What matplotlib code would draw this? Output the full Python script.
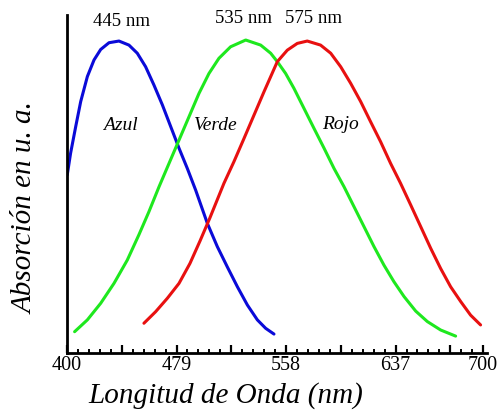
import numpy as np
import matplotlib
matplotlib.use("Agg")
import matplotlib.pyplot as plt

# absorption curves of the three cone types (arbitrary units)
azul_nm = [400.2, 402.6, 406.3, 409.9, 414.7, 419.5, 424.3, 430.3, 437.5, 444.7,
           450.7, 456.7, 462.7, 468.8, 474.8, 480.8, 486.8, 492.8, 501.2, 508.4,
           515.6, 522.9, 530.1, 537.3, 543.3, 549.3]
azul_abs = [0.527, 0.591, 0.670, 0.744, 0.818, 0.867, 0.898, 0.918, 0.923, 0.911,
            0.887, 0.847, 0.793, 0.734, 0.670, 0.606, 0.546, 0.482, 0.384, 0.315,
            0.255, 0.196, 0.142, 0.098, 0.073, 0.056]

verde_nm = [405.5, 414.7, 424.3, 433.9, 443.5, 451.9, 459.1, 466.4, 473.6, 480.8,
            488.0, 495.2, 502.4, 509.6, 518.0, 528.9, 539.7, 546.9, 551.7, 557.7,
            563.7, 570.9, 578.1, 585.4, 592.6, 599.8, 607.0, 614.2, 621.4, 628.6,
            635.8, 643.1, 651.5, 659.9, 669.5, 680.3]
verde_abs = [0.063, 0.098, 0.147, 0.206, 0.275, 0.350, 0.418, 0.492, 0.561, 0.630,
             0.699, 0.768, 0.827, 0.872, 0.906, 0.926, 0.911, 0.887, 0.862, 0.827,
             0.783, 0.724, 0.665, 0.606, 0.546, 0.492, 0.433, 0.374, 0.315, 0.260,
             0.211, 0.167, 0.124, 0.093, 0.068, 0.050]

rojo_nm = [455.5, 463.9, 472.4, 480.8, 488.7, 495.9, 503.1, 513.2, 520.4,
           527.7, 534.9, 542.1, 551.7, 558.9, 566.1, 573.3, 582.9, 590.2, 597.4,
           604.6, 611.8, 619.0, 626.2, 633.4, 640.6, 647.9, 655.1, 662.3, 669.5,
           676.7, 684.0, 691.1, 698.3]
rojo_abs = [0.088, 0.122, 0.162, 0.206, 0.265, 0.331, 0.400, 0.502, 0.566,
            0.635, 0.704, 0.773, 0.862, 0.896, 0.916, 0.923, 0.911, 0.887, 0.847,
            0.798, 0.744, 0.684, 0.625, 0.561, 0.502, 0.438, 0.374, 0.310, 0.250,
            0.196, 0.152, 0.112, 0.083]

tick_values = [400, 479, 558, 637, 700]
peak_labels = ["445 nm", "535 nm", "575 nm"]

plt.rcParams["font.family"] = ["Liberation Serif", "DejaVu Serif"]

fig = plt.figure(figsize=(4.98, 4.17), dpi=100)
ax = fig.add_axes([0.1345, 0.1535, 0.9781 - 0.1345, 0.964 - 0.1535])

line_kw = dict(lw=2.2, solid_capstyle="round", solid_joinstyle="round")
ax.plot(azul_nm, azul_abs, color="#0a0ad8", **line_kw)
ax.plot(verde_nm, verde_abs, color="#1ee81e", **line_kw)
ax.plot(rojo_nm, rojo_abs, color="#e81010", **line_kw)

ax.set_xlim(400, 703)
ax.set_ylim(0, 1)

for side in ("top", "right"):
    ax.spines[side].set_visible(False)
for side in ("left", "bottom"):
    ax.spines[side].set_linewidth(2.0)

# major ticks every 39.5 nm, labelled only at every other one
major = list(np.arange(400, 690, 39.5)) + [700]
ax.set_xticks(major)
ax.set_xticklabels([str(int(round(v))) if int(round(v)) in tick_values else ""
                    for v in major], fontsize=14.5)
ax.set_xticks(np.arange(400, 700, 7.9), minor=True)
ax.tick_params(axis="x", which="major", direction="in", length=6, width=1.6, pad=2)
ax.tick_params(axis="x", which="minor", direction="in", length=3, width=1.4)
ax.set_yticks([])

ax.set_xlabel("Longitud de Onda (nm)", fontsize=21, style="italic")
ax.set_ylabel("Absorción en u. a.", fontsize=21, style="italic")
ax.xaxis.set_label_coords(0.379, -0.085)
ax.yaxis.set_label_coords(-0.068, 0.43)

# peak wavelengths above the curves
ax.text(439.0, 0.982, peak_labels[0], ha="center", va="center", fontsize=13.5)
ax.text(527.5, 0.991, peak_labels[1], ha="center", va="center", fontsize=13.5)
ax.text(577.8, 0.991, peak_labels[2], ha="center", va="center", fontsize=13.5)

# cone names
ax.text(438.5, 0.674, "Azul", ha="center", va="center", fontsize=14, style="italic")
ax.text(507.2, 0.674, "Verde", ha="center", va="center", fontsize=14, style="italic")
ax.text(597.4, 0.677, "Rojo", ha="center", va="center", fontsize=14, style="italic")

fig.savefig("out.png", dpi=100)
